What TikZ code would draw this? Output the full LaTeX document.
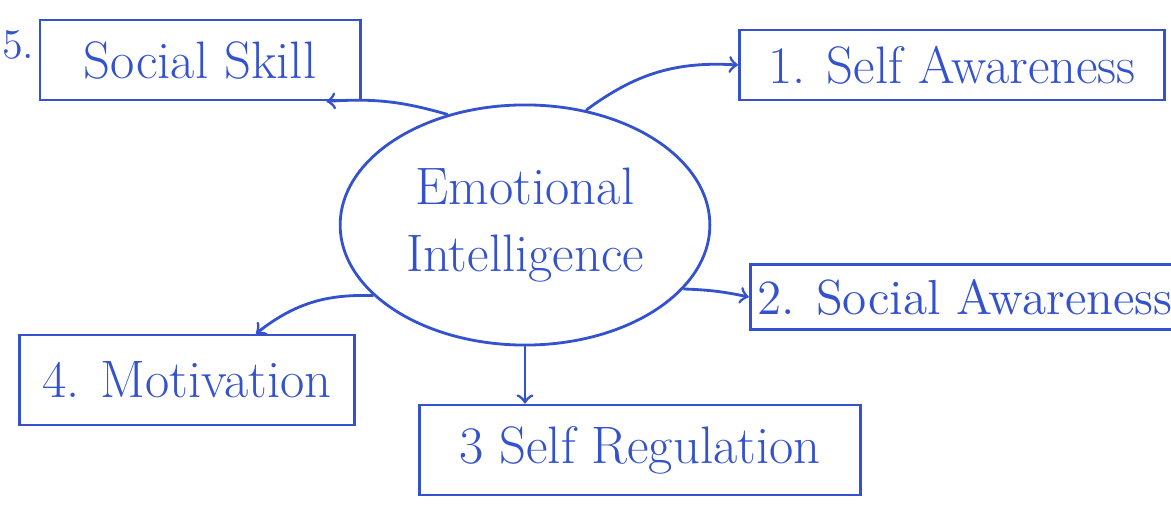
\documentclass[tikz,border=0pt]{standalone}
\usepackage{tikz}
\usetikzlibrary{shapes.geometric}
\definecolor{ink}{RGB}{52,82,205}
\tikzset{
	topic/.style={draw=ink,thick,text=ink,font=\fontsize{15}{18}\selectfont,inner sep=2pt},%
	core/.style={ellipse,draw=ink,thick,text=ink,align=center,font=\fontsize{15}{19}\selectfont,minimum width=3.3cm,minimum height=2.4cm},%
	link/.style={ink,thick,->},%
}
\begin{document}
\begin{tikzpicture}[%
		x=0.01cm,y=-0.01cm,%
		]
		\useasboundingbox (0,0) rectangle (1171,519);
		\node[core] (ei) at (525,225) {Emotional\\Intelligence};
		\node[topic,minimum width=3.2cm,minimum height=0.8cm,label={[text=ink,font=\fontsize{12}{14}\selectfont,inner sep=1pt,label distance=0pt,yshift=0.15cm]left:5.}] (skill) at (200,60) {Social Skill};
		\node[topic,minimum width=4.25cm,minimum height=0.7cm] (selfaware) at (952,65) {1. Self Awareness};
		\node[topic,minimum width=4.0cm,minimum height=0.65cm,font=\fontsize{14}{17}\selectfont] (socialaware) at (965,297) {2. Social Awareness};
		\node[topic,minimum width=3.35cm,minimum height=0.9cm] (motiv) at (187,380) {4. Motivation};
		\node[topic,minimum width=4.4cm,minimum height=0.9cm] (selfreg) at (640,450) {3 Self Regulation};
		\draw[link] (ei.125) to[bend right=10] ([xshift=-0.35cm]skill.south east);
		\draw[link] (ei.62) to[bend left=20] (selfaware.west);
		\draw[link] (ei.-22) to[bend left=5] (socialaware.west);
		\draw[link] (ei.205) to[bend right=20] ([xshift=-1cm]motiv.north east);
		\draw[link] (ei.south) -- (ei.south |- selfreg.north);
	\end{tikzpicture}
\end{document}
